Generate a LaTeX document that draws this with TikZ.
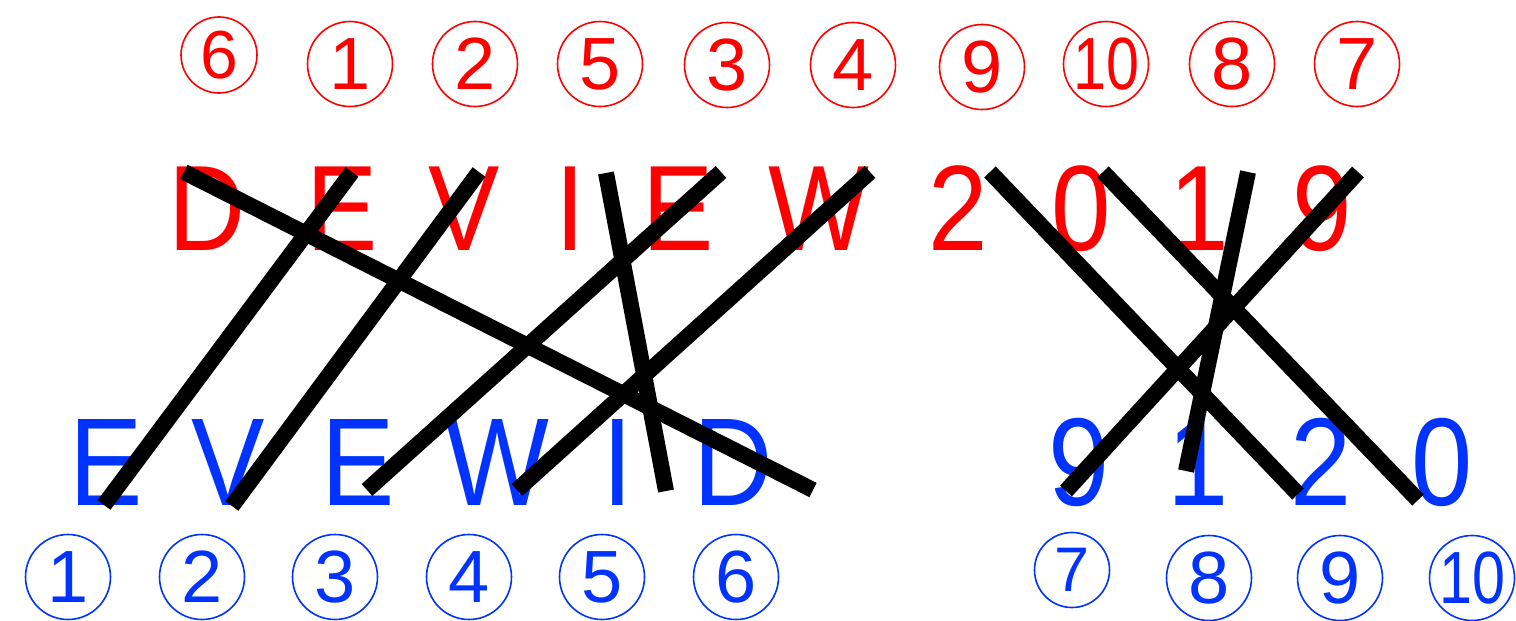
\documentclass[tikz,border=0pt]{standalone}
\usepackage{fontspec}
\setmainfont{Liberation Sans}
\usepackage{graphicx}
\definecolor{rd}{RGB}{255,0,0}
\definecolor{bl}{RGB}{0,51,255}
\newcommand\narrowlet[1]{\scalebox{0.88}[1]{#1}}
\begin{document}
\begin{tikzpicture}[x=1pt,y=-1pt,
  redlet/.style={text=rd, anchor=base, inner sep=0pt, font=\fontsize{121.5}{130}\selectfont},
  bluelet/.style={text=bl, anchor=base, inner sep=0pt, font=\fontsize{125}{130}\selectfont},
  cnum/.style={circle, draw, line width=1.6pt, minimum size=85pt, inner sep=0pt, font=\fontsize{74}{80}\selectfont},
  rnum/.style={cnum, draw=rd, text=rd},
  bnum/.style={cnum, draw=bl, text=bl},
  link/.style={line width=16pt, line cap=butt, draw=black}]
\useasboundingbox (0,0) rectangle (1516,621);
% top circled numbers
\node[rnum, minimum size=76pt, font=\fontsize{68}{72}\selectfont] (r6) at (219,55) {6};
\node[rnum] (r1) at (350,64) {1};
\node[rnum] (r2) at (475,64) {2};
\node[rnum] (r5) at (600,64) {5};
\node[rnum] (r3) at (727,65) {3};
\node[rnum] (r4) at (853,65) {4};
\node[rnum] (r9) at (982,67) {9};
\node[rnum] (r10) at (1106,64) {\scalebox{0.8}[1]{10}};
\node[rnum] (r8) at (1232,64) {8};
\node[rnum] (r7) at (1357,64) {7};
% red letters
\node[redlet] (tD) at (207,250) {\narrowlet{D}};
\node[redlet] (tE1) at (342,250) {\narrowlet{E}};
\node[redlet] (tV) at (464,250) {\narrowlet{V}};
\node[redlet] (tI) at (570,250) {\narrowlet{I}};
\node[redlet] (tE2) at (678,250) {\narrowlet{E}};
\node[redlet] (tW) at (819,250) {\narrowlet{W}};
\node[redlet] (t2) at (958,250) {\narrowlet{2}};
\node[redlet] (t0) at (1081,250) {\narrowlet{0}};
\node[redlet] (t1) at (1199,250) {\narrowlet{1}};
\node[redlet] (t9) at (1322,250) {\narrowlet{9}};
% blue letters
\node[bluelet] (bE1) at (106,505) {\narrowlet{E}};
\node[bluelet] (bV) at (228,505) {\narrowlet{V}};
\node[bluelet] (bE2) at (358,505) {\narrowlet{E}};
\node[bluelet] (bW) at (497,505) {\narrowlet{W}};
\node[bluelet] (bI) at (618,505) {\narrowlet{I}};
\node[bluelet] (bD) at (733,505) {\narrowlet{D}};
\node[bluelet] (b9) at (1079,505) {\narrowlet{9}};
\node[bluelet] (b1) at (1198,505) {\narrowlet{1}};
\node[bluelet] (b2) at (1321,505) {\narrowlet{2}};
\node[bluelet] (b0) at (1442,505) {\narrowlet{0}};
% bottom circled numbers
\node[bnum] (c1) at (68,577) {1};
\node[bnum] (c2) at (202,577) {2};
\node[bnum] (c3) at (335,577) {3};
\node[bnum] (c4) at (469,577) {4};
\node[bnum] (c5) at (602,577) {5};
\node[bnum] (c6) at (736,577) {6};
\node[bnum, minimum size=75pt, font=\fontsize{63}{68}\selectfont] (c7) at (1072,570) {7};
\node[bnum] (c8) at (1209,578) {8};
\node[bnum] (c9) at (1340,578) {9};
\node[bnum] (c10) at (1472,578) {\scalebox{0.8}[1]{10}};
% link end points
\coordinate (a1) at (184,172);  \coordinate (z1) at (813,490);
\coordinate (a2) at (352,172);  \coordinate (z2) at (104,505);
\coordinate (a3) at (479,172);  \coordinate (z3) at (232,506);
\coordinate (a4) at (606,173);  \coordinate (z4) at (666,491);
\coordinate (a5) at (721,172);  \coordinate (z5) at (367,490);
\coordinate (a6) at (870,172);  \coordinate (z6) at (517,490);
\coordinate (a7) at (990,172);  \coordinate (z7) at (1298,494);
\coordinate (a8) at (1103,172); \coordinate (z8) at (1418,500);
\coordinate (a9) at (1248,172); \coordinate (z9) at (1186,471);
\coordinate (a10) at (1358,172); \coordinate (z10) at (1066,491);
\foreach \i in {1,...,10} {\draw[link] (a\i) -- (z\i);}
\end{tikzpicture}
\end{document}
